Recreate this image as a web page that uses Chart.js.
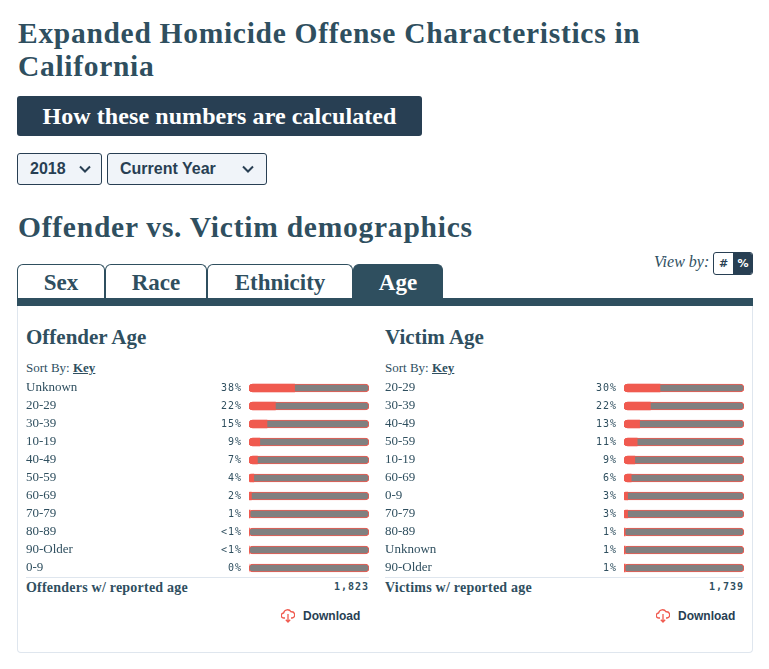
<!DOCTYPE html>
<html><head><meta charset="utf-8">
<script src="https://cdn.jsdelivr.net/npm/chart.js@4"></script>
<style>
html,body{margin:0;padding:0;background:#fff;overflow:hidden;width:769px;height:669px}
body{position:relative;font-family:"Liberation Serif",serif;color:#2f4f5f}
.a{position:absolute;white-space:nowrap}
.h1{font-weight:700;font-size:29.5px;line-height:33px;letter-spacing:.7px;color:#2f4f5f}
.btn{left:17px;top:96px;width:405px;height:40px;background:#283f53;border-radius:3px;color:#fff;font-weight:700;font-size:24px;line-height:40px;text-align:center;letter-spacing:.08px}
.sel{top:153px;height:30px;background:#f0f4f9;border:1px solid #283f53;border-radius:3px;color:#283f53;font:700 16px/30px "Liberation Sans",sans-serif}
.sel span{position:absolute;left:12px}
.sel svg{position:absolute;top:11px}
.tab{top:264px;height:33px;border:1px solid #2f4f5f;border-bottom:none;border-radius:6px 6px 0 0;background:#fff;color:#2f4f5f;font-weight:700;font-size:23px;line-height:35px;text-align:center;box-sizing:content-box}
.hd{font-weight:700;font-size:21px;line-height:24px;color:#2f4f5f}
.sort{font-size:13px;line-height:16px;color:#2f4f5f}
.sort b{text-decoration:underline}
.tot{font-weight:700;font-size:14px;line-height:16px;letter-spacing:.22px;color:#2f4f5f}
.num{font:700 10px/16px "DejaVu Sans Mono",monospace;letter-spacing:1px;color:#2f4f5f;text-align:right}
.dl{font:700 12px/16px "Liberation Sans",sans-serif;color:#283f53}
canvas{position:absolute}
</style></head><body>
<div class="a h1" style="left:18px;top:17px">Expanded Homicide Offense Characteristics in</div>
<div class="a h1" style="left:18px;top:50px">California</div>
<div class="a btn">How these numbers are calculated</div>
<div class="a sel" style="left:17px;width:83px"><span>2018</span><svg style="left:60px" width="14" height="9" viewBox="0 0 14 9"><path d="M2 1.5 7 6.5 12 1.5" fill="none" stroke="#283f53" stroke-width="2"/></svg></div>
<div class="a sel" style="left:107px;width:158px"><span>Current Year</span><svg style="left:133px" width="14" height="9" viewBox="0 0 14 9"><path d="M2 1.5 7 6.5 12 1.5" fill="none" stroke="#283f53" stroke-width="2"/></svg></div>
<div class="a h1" style="left:18px;top:211px;letter-spacing:.76px">Offender vs. Victim demographics</div>

<div class="a" style="left:654px;top:253px;font-style:italic;font-size:16px;line-height:18px;color:#2f4f5f">View by:</div>
<div class="a" style="left:713px;top:252px;width:38px;height:21px;border:1px solid #283f53;border-radius:3px;font:700 11px/21px 'DejaVu Sans',sans-serif;color:#283f53;overflow:hidden">
<span style="position:absolute;left:0;top:0;width:19px;text-align:center">#</span>
<span style="position:absolute;left:19px;top:0;width:20px;height:21px;background:#283f53;color:#fff;text-align:center">%</span></div>

<div class="a tab" style="left:17px;width:86px">Sex</div>
<div class="a tab" style="left:105px;width:100px">Race</div>
<div class="a tab" style="left:207px;width:144px">Ethnicity</div>
<div class="a tab" style="left:353px;width:88px;height:34px;background:#2f4f5f;border-color:#2f4f5f;color:#fff">Age</div>
<div class="a" style="left:17px;top:298px;width:736px;height:8px;background:#2f4f5f"></div>
<div class="a" style="left:17px;top:306px;width:734px;height:346px;border:1px solid #dfe6ee;border-top:none;border-radius:0 0 4px 4px"></div>

<div class="a hd" style="left:26px;top:325px">Offender Age</div>
<div class="a sort" style="left:26px;top:360px">Sort By: <b>Key</b></div>
<canvas id="offender" style="left:26px;top:379px" width="343" height="198"></canvas>
<div class="a" style="left:26px;top:577px;width:343px;height:1px;background:#dfe6ee"></div>
<div class="a tot" style="left:26px;top:580px">Offenders w/ reported age</div>
<div class="a num" style="left:300px;top:579px;width:69px">1,823</div>
<svg class="a" style="left:281px;top:608px" width="14" height="15" viewBox="0 0 14 15"><path d="M4 10H3A2.5 2.5 0 0 1 2.600 5 4 4 0 0 1 10 3.800 3 3 0 0 1 11 10H10M7 6V14M4.800 11.800 7 14 9.200 11.800" fill="none" stroke="#f05a4f" stroke-width="1.300"/></svg>
<div class="a dl" style="left:303px;top:608px">Download</div>

<div class="a hd" style="left:385px;top:325px">Victim Age</div>
<div class="a sort" style="left:385px;top:360px">Sort By: <b>Key</b></div>
<canvas id="victim" style="left:385px;top:379px" width="359" height="198"></canvas>
<div class="a" style="left:385px;top:577px;width:359px;height:1px;background:#dfe6ee"></div>
<div class="a tot" style="left:385px;top:580px">Victims w/ reported age</div>
<div class="a num" style="left:675px;top:579px;width:69px">1,739</div>
<svg class="a" style="left:656px;top:608px" width="14" height="15" viewBox="0 0 14 15"><path d="M4 10H3A2.5 2.5 0 0 1 2.600 5 4 4 0 0 1 10 3.800 3 3 0 0 1 11 10H10M7 6V14M4.800 11.800 7 14 9.200 11.800" fill="none" stroke="#f05a4f" stroke-width="1.300"/></svg>
<div class="a dl" style="left:678px;top:608px">Download</div>

<script>
const offenderKeys = ["Unknown","20-29","30-39","10-19","40-49","50-59","60-69","70-79","80-89","90-Older","0-9"];
const offenderValues = [38,22,15,9,7,4,2,1,0.4,0.3,0];
const offenderLabels = ["38%","22%","15%","9%","7%","4%","2%","1%","<1%","<1%","0%"];
const victimKeys = ["20-29","30-39","40-49","50-59","10-19","60-69","0-9","70-79","80-89","Unknown","90-Older"];
const victimValues = [30,22,13,11,9,6,3,3,1,1,1];
const victimLabels = ["30%","22%","13%","11%","9%","6%","3%","3%","1%","1%","1%"];
const trackValues = [100,100,100,100,100,100,100,100,100,100,100];

const RED = "#f05a4f", GRAY = "#808080", INK = "#2f4f5f";

const rowLabels = {
  id: "rowLabels",
  afterDatasetsDraw(chart, args, opts) {
    const c = chart.ctx, y = chart.scales.y;
    c.save();
    c.font = '10px "DejaVu Sans Mono", monospace';
    c.letterSpacing = "1px";
    c.fillStyle = INK;
    c.textAlign = "right";
    c.textBaseline = "middle";
    opts.labels.forEach((t, i) => c.fillText(t, chart.chartArea.left - 7, y.getPixelForTick(i) + 0.5));
    c.restore();
  }
};

function draw(id, keys, values, labels, axisWidth) {
  new Chart(document.getElementById(id), {
    type: "bar",
    plugins: [rowLabels],
    data: {
      labels: keys,
      datasets: [
        { data: values, backgroundColor: RED, borderWidth: 0, borderSkipped: false,
          borderRadius: { topLeft: 4, bottomLeft: 4, topRight: 0, bottomRight: 0 } },
        { data: trackValues, backgroundColor: GRAY, borderColor: RED, borderWidth: 1,
          borderSkipped: false, borderRadius: 4 }
      ]
    },
    options: {
      indexAxis: "y", responsive: false, animation: false,
      layout: { padding: 0 },
      datasets: { bar: { grouped: false, barThickness: 8 } },
      plugins: { legend: { display: false }, tooltip: { enabled: false }, rowLabels: { labels } },
      scales: {
        x: { display: false, min: 0, max: 100 },
        y: {
          afterFit(s) { s.width = axisWidth; s.paddingTop = 0; s.paddingBottom = 0; },
          grid: { display: false }, border: { display: false },
          ticks: { crossAlign: "far", padding: 0, autoSkip: false, color: INK,
                   font: { family: '"Liberation Serif", serif', size: 13 } }
        }
      }
    }
  });
}
draw("offender", offenderKeys, offenderValues, offenderLabels, 223);
draw("victim", victimKeys, victimValues, victimLabels, 239);
</script>
</body></html>
